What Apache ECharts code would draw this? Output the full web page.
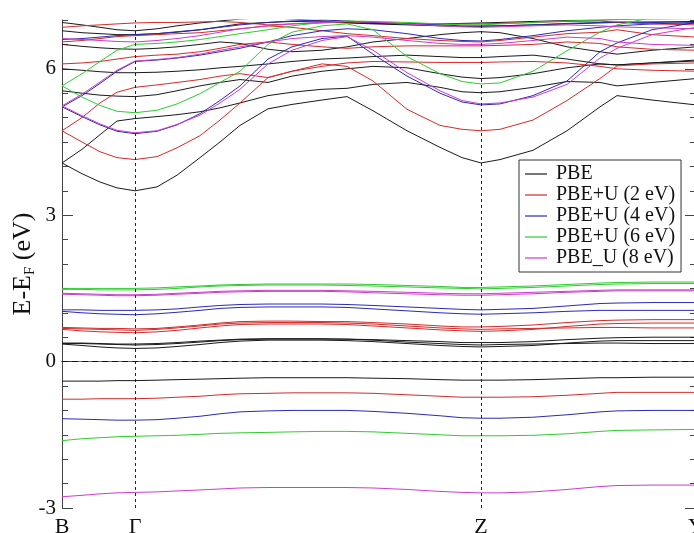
<!DOCTYPE html>
<html>
<head>
<meta charset="utf-8">
<script src="https://cdn.jsdelivr.net/npm/echarts@6/dist/echarts.min.js"></script>
<style>html,body{margin:0;padding:0;background:#fff}#c{width:694px;height:533px}</style>
</head>
<body>
<div id="c"></div>
<script>
// k-path sample positions (arbitrary path units), high-symmetry points
const kPath = [0, 20, 38, 55, 73, 95, 115, 138, 158, 178, 206, 230, 260, 285, 311, 345, 378, 400, 419, 438, 471, 505, 538, 555, 590, 634];
const kLabels = ['B', 'Γ', 'Z', 'Y'];
const kLabelPos = [0, 73, 419, 634];
const yTickLabels = [-3, 0, 3, 6];

const methods = ['PBE', 'PBE+U (2 eV)', 'PBE+U (4 eV)', 'PBE+U (6 eV)', 'PBE_U (8 eV)'];

// PBE bands
const bandsPBE = [
  [-0.40,-0.40,-0.40,-0.39,-0.39,-0.38,-0.37,-0.36,-0.35,-0.34,-0.33,-0.33,-0.33,-0.33,-0.34,-0.35,-0.37,-0.38,-0.38,-0.38,-0.37,-0.35,-0.33,-0.33,-0.32,-0.32],
  [0.37,0.37,0.36,0.35,0.34,0.35,0.37,0.40,0.43,0.45,0.46,0.46,0.46,0.46,0.45,0.43,0.41,0.39,0.39,0.39,0.41,0.45,0.48,0.49,0.50,0.50],
  [0.36,0.33,0.30,0.28,0.27,0.28,0.31,0.35,0.39,0.42,0.44,0.44,0.44,0.43,0.41,0.37,0.33,0.31,0.30,0.31,0.33,0.38,0.42,0.43,0.43,0.43],
  [0.38,0.38,0.37,0.36,0.36,0.37,0.39,0.42,0.44,0.46,0.47,0.47,0.47,0.46,0.44,0.40,0.37,0.35,0.34,0.35,0.36,0.37,0.38,0.38,0.37,0.37],
  [4.07,3.85,3.68,3.56,3.50,3.58,3.82,4.18,4.50,4.84,5.18,5.27,5.36,5.43,5.14,4.73,4.39,4.18,4.07,4.14,4.33,4.73,5.22,5.45,5.36,5.26],
  [4.07,4.35,4.65,4.93,4.98,5.02,5.06,5.12,5.20,5.30,5.45,5.52,5.58,5.60,5.68,5.72,5.62,5.53,5.51,5.53,5.62,5.74,5.72,5.65,5.72,5.80],
  [5.55,5.50,5.46,5.44,5.43,5.47,5.55,5.65,5.72,5.78,5.72,5.85,5.95,6.00,6.05,6.02,5.90,5.83,5.80,5.82,5.90,6.02,6.10,6.08,6.12,6.16],
  [6.00,5.97,5.94,5.92,5.92,5.93,5.95,5.98,6.02,6.05,6.10,6.15,6.20,6.22,6.25,6.28,6.25,6.23,6.23,6.25,6.28,6.20,6.10,6.08,6.12,6.18],
  [6.50,6.46,6.43,6.41,6.40,6.42,6.45,6.50,6.55,6.52,6.40,6.35,6.38,6.45,6.55,6.62,6.70,6.74,6.76,6.74,6.62,6.45,6.35,6.30,6.38,6.45],
  [6.78,6.74,6.72,6.70,6.70,6.72,6.75,6.80,6.86,6.92,6.95,6.97,6.96,6.94,6.92,6.90,6.88,6.87,6.87,6.88,6.90,6.92,6.94,6.95,6.96,6.97],
  [6.95,6.90,6.85,6.80,6.78,6.82,6.88,6.94,6.98,7.02,7.05,7.02,6.98,6.95,6.93,6.92,6.92,6.93,6.94,6.95,6.97,6.99,7.00,7.01,7.02,7.03]
];
// PBE+U (2 eV) bands
const bandsU2 = [
  [-0.77,-0.77,-0.76,-0.76,-0.76,-0.75,-0.73,-0.71,-0.68,-0.66,-0.65,-0.64,-0.64,-0.64,-0.65,-0.68,-0.71,-0.73,-0.73,-0.73,-0.72,-0.69,-0.65,-0.63,-0.63,-0.63],
  [0.70,0.69,0.68,0.68,0.67,0.68,0.71,0.75,0.79,0.82,0.83,0.83,0.82,0.82,0.80,0.77,0.73,0.71,0.71,0.72,0.75,0.80,0.84,0.85,0.86,0.86],
  [0.66,0.63,0.61,0.60,0.59,0.61,0.64,0.69,0.73,0.76,0.77,0.77,0.77,0.76,0.73,0.69,0.65,0.63,0.62,0.63,0.66,0.72,0.77,0.78,0.79,0.79],
  [0.68,0.67,0.66,0.65,0.64,0.66,0.69,0.73,0.77,0.79,0.80,0.80,0.80,0.79,0.77,0.73,0.69,0.67,0.66,0.67,0.68,0.69,0.70,0.70,0.69,0.69],
  [4.73,4.50,4.30,4.18,4.14,4.20,4.38,4.63,4.95,5.30,5.82,5.95,6.10,6.05,5.75,5.17,4.84,4.76,4.73,4.76,4.95,5.35,5.80,6.06,6.10,6.12],
  [4.73,5.00,5.30,5.52,5.62,5.67,5.72,5.78,5.85,5.90,5.82,5.95,6.05,6.12,6.15,6.14,6.13,6.13,6.13,6.14,6.15,6.12,6.05,6.00,5.97,5.95],
  [6.10,6.12,6.15,6.20,6.25,6.28,6.30,6.35,6.42,6.50,6.55,6.50,6.45,6.42,6.45,6.47,6.47,6.47,6.47,6.48,6.50,6.55,6.52,6.45,6.40,6.38],
  [6.55,6.58,6.62,6.66,6.68,6.70,6.72,6.74,6.78,6.82,6.88,6.85,6.78,6.72,6.68,6.62,6.58,6.56,6.55,6.58,6.65,6.72,6.75,6.80,6.70,6.65],
  [6.85,6.88,6.90,6.92,6.94,6.95,6.95,6.96,6.97,6.95,6.90,6.92,6.94,6.96,6.95,6.93,6.92,6.92,6.92,6.93,6.95,6.97,6.98,6.95,6.92,6.90]
];
// PBE+U (4 eV) bands
const bandsU4 = [
  [-1.17,-1.18,-1.19,-1.20,-1.20,-1.19,-1.16,-1.12,-1.07,-1.03,-1.01,-1.00,-1.00,-1.00,-1.02,-1.06,-1.11,-1.15,-1.16,-1.16,-1.14,-1.09,-1.03,-1.01,-1.00,-1.00],
  [1.06,1.06,1.05,1.05,1.05,1.06,1.08,1.12,1.15,1.17,1.18,1.18,1.18,1.17,1.15,1.12,1.09,1.07,1.06,1.07,1.09,1.14,1.19,1.20,1.21,1.21],
  [1.03,1.00,0.98,0.97,0.96,0.98,1.01,1.05,1.09,1.11,1.12,1.12,1.12,1.11,1.08,1.04,1.00,0.98,0.97,0.98,1.00,1.03,1.05,1.05,1.05,1.05],
  [5.22,5.02,4.85,4.72,4.67,4.72,4.85,5.08,5.35,5.65,6.20,6.45,6.62,6.67,6.30,5.85,5.50,5.32,5.26,5.28,5.45,5.75,6.35,6.53,6.80,6.95],
  [5.22,5.45,5.70,5.95,6.15,6.18,6.22,6.28,6.35,6.42,6.55,6.68,6.78,6.82,6.80,6.72,6.62,6.58,6.57,6.60,6.68,6.78,6.85,6.88,6.92,6.95],
  [6.60,6.62,6.65,6.68,6.70,6.72,6.76,6.80,6.85,6.90,6.95,6.98,7.00,6.98,6.95,6.92,6.90,6.88,6.88,6.88,6.90,6.93,6.95,6.96,6.95,6.93]
];
// PBE+U (6 eV) bands
const bandsU6 = [
  [-1.62,-1.58,-1.56,-1.54,-1.53,-1.52,-1.51,-1.49,-1.47,-1.46,-1.45,-1.44,-1.43,-1.43,-1.44,-1.47,-1.50,-1.52,-1.52,-1.52,-1.51,-1.48,-1.43,-1.41,-1.40,-1.39],
  [1.50,1.50,1.50,1.50,1.50,1.51,1.53,1.55,1.57,1.58,1.59,1.59,1.59,1.59,1.58,1.56,1.54,1.52,1.52,1.53,1.55,1.58,1.61,1.62,1.63,1.63],
  [1.48,1.48,1.47,1.47,1.47,1.48,1.50,1.53,1.55,1.56,1.57,1.57,1.57,1.56,1.55,1.53,1.51,1.50,1.49,1.50,1.52,1.55,1.58,1.59,1.60,1.60],
  [5.65,5.42,5.25,5.13,5.10,5.15,5.28,5.49,5.72,5.95,6.50,6.75,6.88,6.92,6.80,6.25,5.90,5.74,5.69,5.71,5.95,6.37,6.75,6.90,7.05,7.10],
  [5.65,5.90,6.15,6.38,6.50,6.52,6.55,6.60,6.66,6.72,6.80,6.88,6.95,6.98,6.97,6.95,6.92,6.90,6.90,6.92,6.95,6.98,7.00,7.02,7.05,7.05]
];
// PBE_U (8 eV) bands
const bandsU8 = [
  [-2.77,-2.74,-2.71,-2.69,-2.68,-2.67,-2.65,-2.63,-2.61,-2.59,-2.58,-2.58,-2.58,-2.58,-2.59,-2.62,-2.66,-2.68,-2.69,-2.69,-2.67,-2.62,-2.56,-2.54,-2.53,-2.53],
  [1.40,1.39,1.38,1.37,1.37,1.38,1.40,1.42,1.44,1.45,1.46,1.46,1.46,1.45,1.44,1.42,1.40,1.39,1.39,1.40,1.42,1.44,1.46,1.47,1.47,1.47],
  [1.38,1.37,1.36,1.35,1.35,1.36,1.38,1.40,1.42,1.43,1.44,1.44,1.44,1.43,1.41,1.39,1.37,1.36,1.36,1.37,1.39,1.42,1.44,1.45,1.45,1.45],
  [5.24,5.04,4.87,4.74,4.69,4.73,4.86,5.05,5.30,5.58,6.10,6.38,6.58,6.66,6.38,5.92,5.55,5.35,5.28,5.30,5.42,5.68,6.22,6.42,6.70,6.85],
  [5.24,5.48,5.73,5.97,6.16,6.19,6.23,6.30,6.38,6.45,6.55,6.62,6.66,6.68,6.65,6.58,6.52,6.50,6.50,6.52,6.58,6.65,6.62,6.55,6.50,6.48],
  [6.62,6.60,6.58,6.56,6.55,6.58,6.62,6.68,6.75,6.82,6.88,6.92,6.95,6.97,6.96,6.92,6.88,6.86,6.85,6.86,6.88,6.90,6.88,6.86,6.84,6.82]
];

const allBands = [bandsPBE, bandsU2, bandsU4, bandsU6, bandsU8];
const colors = ['#1a1a1a', '#d42a2a', '#2a2ab4', '#2ecc2e', '#cc3ccc'];
const FONT = '"Liberation Serif", "Times New Roman", serif';

const series = [];
allBands.forEach((bands, m) => {
  bands.forEach(b => {
    series.push({
      type: 'line',
      name: methods[m],
      data: kPath.map((k, i) => [k, b[i]]),
      symbol: 'none',
      showSymbol: false,
      silent: true,
      clip: true,
      itemStyle: { color: colors[m] },
      lineStyle: { color: colors[m], width: 1 },
      z: 2
    });
  });
});
// guide lines (dashed) at Γ, Z and the Fermi level
series.push({
  type: 'line',
  data: [],
  silent: true,
  markLine: {
    silent: true,
    symbol: 'none',
    label: { show: false },
    animation: false,
    data: [
      { xAxis: kLabelPos[1], lineStyle: { color: '#222', width: 1, type: [3, 3] } },
      { xAxis: kLabelPos[2], lineStyle: { color: '#222', width: 1, type: [3, 3] } },
      { yAxis: 0, lineStyle: { color: '#111', width: 1.2, type: [6, 4] } }
    ]
  }
});

const chart = echarts.init(document.getElementById('c'), null, { renderer: 'canvas' });
const yBase = { type: 'value', min: -3, max: 7, interval: 0.5, splitLine: { show: false } };
chart.setOption({
  animation: false,
  backgroundColor: '#fff',
  grid: { left: 62, top: 20, width: 634, height: 488, outerBoundsMode: 'none', containLabel: false },
  xAxis: [
    {
      type: 'value', min: 0, max: 634, position: 'bottom',
      splitLine: { show: false },
      axisLine: { lineStyle: { color: '#444', width: 1 } },
      axisTick: { show: false },
      axisLabel: {
        customValues: kLabelPos,
        formatter: v => kLabels[kLabelPos.indexOf(v)],
        fontFamily: FONT, fontSize: 22, color: '#111', margin: 8,
        showMinLabel: true, showMaxLabel: true, hideOverlap: false
      }
    },
    {
      type: 'value', min: 0, max: 634, position: 'top',
      splitLine: { show: false },
      axisLine: { show: true, lineStyle: { color: '#666', width: 1 } },
      axisTick: { show: false }, axisLabel: { show: false }
    }
  ],
  yAxis: [
    Object.assign({}, yBase, {
      position: 'left',
      axisLine: { show: true, lineStyle: { color: '#444', width: 1 } },
      axisTick: { show: true, inside: true, length: 6, lineStyle: { color: '#444' } },
      axisLabel: { customValues: yTickLabels, fontFamily: FONT, fontSize: 21, color: '#111', margin: 6 },
      name: '{a|E-E}{s|F}{a| (eV)}',
      nameLocation: 'middle', nameRotate: 90, nameGap: 24, nameMoveOverlap: false,
      nameTextStyle: {
        fontFamily: FONT, color: '#111',
        rich: {
          a: { fontFamily: FONT, fontSize: 26, color: '#111', lineHeight: 30 },
          s: { fontFamily: FONT, fontSize: 15, color: '#111', lineHeight: 12, verticalAlign: 'bottom' }
        }
      }
    }),
    Object.assign({}, yBase, {
      position: 'left',
      axisLine: { show: false },
      axisTick: { show: true, inside: true, length: 11, customValues: yTickLabels, lineStyle: { color: '#444' } },
      axisLabel: { show: false }
    }),
    Object.assign({}, yBase, {
      position: 'right',
      axisLine: { show: true, lineStyle: { color: '#444', width: 1 } },
      axisTick: { show: true, inside: true, length: 6, lineStyle: { color: '#444' } },
      axisLabel: { show: false }
    }),
    Object.assign({}, yBase, {
      position: 'right',
      axisLine: { show: false },
      axisTick: { show: true, inside: true, length: 11, customValues: yTickLabels, lineStyle: { color: '#444' } },
      axisLabel: { show: false }
    })
  ],
  legend: {
    data: methods.map((n, i) => ({ name: n, icon: 'rect', itemStyle: { color: colors[i], borderWidth: 0 } })),
    orient: 'vertical',
    left: 519, top: 160,
    padding: [4, 6, 4, 6],
    itemWidth: 22, itemHeight: 1.2, itemGap: 1,
    backgroundColor: '#fff',
    borderColor: '#333', borderWidth: 1,
    borderRadius: 0,
    textStyle: { fontFamily: FONT, fontSize: 20, color: '#111', lineHeight: 20, padding: [0, 0, 0, 4] },
    selectedMode: false
  },
  series: series
});
</script>
</body>
</html>
